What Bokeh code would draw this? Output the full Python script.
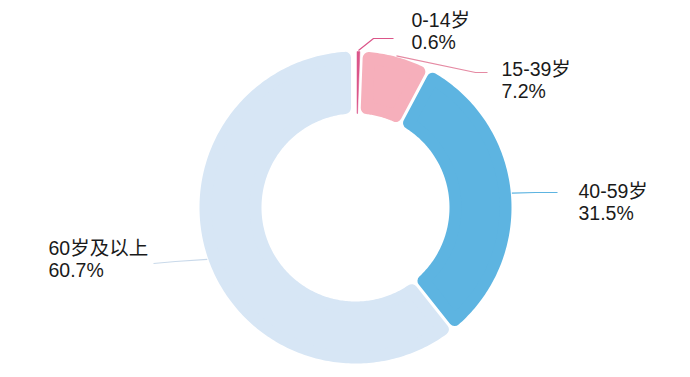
import numpy as np
from bokeh.plotting import figure
from bokeh.models import Range1d
from bokeh.core.properties import value
from bokeh.embed import file_html
from bokeh.resources import INLINE

# ---- data ----
categories = ["0-14岁", "15-39岁", "40-59岁", "60岁及以上"]
shares = [0.6, 7.2, 31.5, 60.7]
pct_labels = ["0.6%", "7.2%", "31.5%", "60.7%"]
colors = ["#db5589", "#f6afbb", "#5db4e1", "#d7e6f5"]
leader_colors = ["#db5589", "#e58aa3", "#5db4e1", "#c9d9ea"]

W, H = 690, 377
CX, CY = 355.0, H - 207.0
R_IN, R_OUT = 94.0, 156.0
GAP = 3.0
CORNER = 6.0

p = figure(width=W, height=H, x_range=Range1d(0, W), y_range=Range1d(0, H),
           output_backend="svg", toolbar_location=None, min_border=0,
           x_axis_location=None, y_axis_location=None)
p.grid.visible = False
p.outline_line_color = None
p.background_fill_color = "white"


def pt(r, theta):
    # theta clockwise from top (radians)
    return CX + r * np.sin(theta), CY + r * np.cos(theta)


total = float(sum(shares))
fracs = np.array(shares) / total
ends = np.cumsum(fracs) * 2 * np.pi
starts = ends - fracs * 2 * np.pi

xs_list, ys_list, lw_list = [], [], []
for i, (t0, t1) in enumerate(zip(starts, ends)):
    span_px = R_IN * (t1 - t0)
    c = CORNER if span_px > 4 * CORNER else 0.0
    ri, ro = R_IN + c, R_OUT - c
    d0 = GAP / 2 + c
    d1 = GAP / 2 + c + (3.0 if i == len(shares) - 1 else 0.0)
    a0o, a1o = t0 + np.arcsin(d0 / ro), t1 - np.arcsin(d1 / ro)
    a0i, a1i = t0 + np.arcsin(d0 / ri), t1 - np.arcsin(d1 / ri)
    n = max(8, int((t1 - t0) * 60))
    to = np.linspace(a0o, a1o, n)
    ti = np.linspace(a1i, a0i, n)
    xo, yo = pt(ro, to)
    xi, yi = pt(ri, ti)
    xs_list.append(list(np.concatenate([xo, xi])))
    ys_list.append(list(np.concatenate([yo, yi])))
    lw_list.append(2 * c if c > 0 else 0.5)

for i in range(len(shares)):
    p.patch(xs_list[i], ys_list[i], fill_color=colors[i], line_color=colors[i],
            line_width=lw_list[i], line_join="round")

# ---- leader lines & labels ----
mids = (starts + ends) / 2
# (elbow, end) in screen px, label x, label first-line center y (screen px)
leader_layout = [
    ((373, 38), (393, 38), 411, 19),
    ((475, 72), (487, 72), 501, 68),
    ((535, 192), (557, 192), 578, 190),
    ((175, 261), (153, 263), 48, 247),
]
LINE_GAP = 22.5
for i, (elb, end, lx, ly) in enumerate(leader_layout):
    sx, sy = pt(R_OUT + 1, mids[i])
    p.line([sx, elb[0], end[0]], [sy, H - elb[1], H - end[1]],
           line_color=leader_colors[i], line_width=1.2)
    p.text(x=[lx, lx], y=[H - ly, H - ly - LINE_GAP],
           text=[categories[i], pct_labels[i]],
           text_font=value("Liberation Sans, Noto Sans CJK SC"),
           text_font_size="19.5px", text_color="#1a1a1a",
           text_align="left", text_baseline="middle")

open("out.html", "w").write(file_html(p, INLINE))
